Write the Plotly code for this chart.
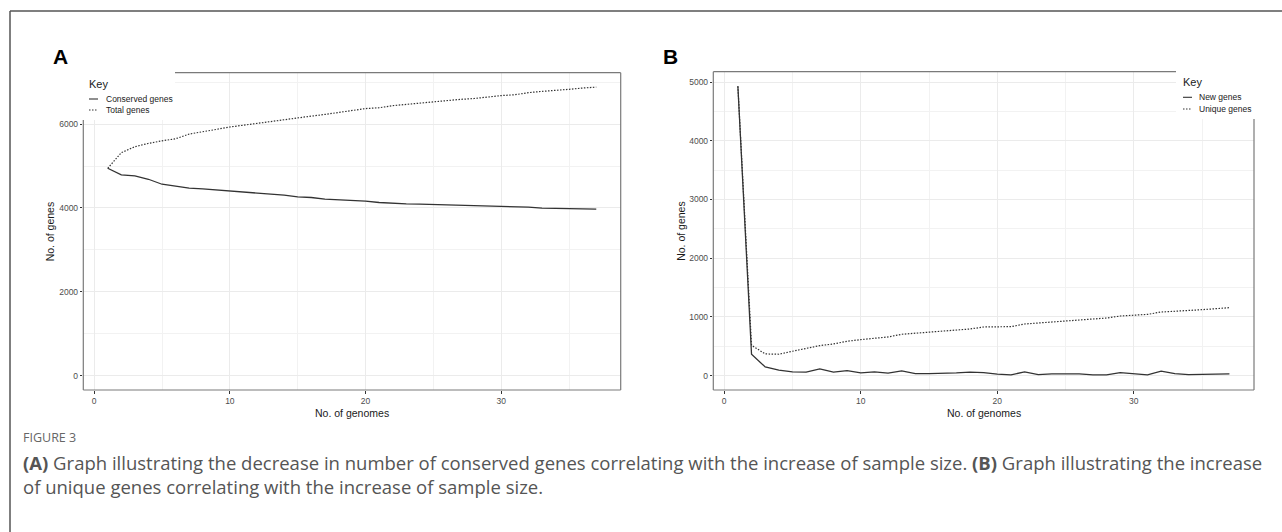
import plotly.graph_objects as go

genomes = list(range(1, 38))

conserved_genes = [4946, 4787, 4763, 4684, 4565, 4526, 4470, 4455, 4430, 4407,
                   4383, 4343, 4335, 4304, 4264, 4248, 4208, 4193, 4169, 4161,
                   4129, 4105, 4098, 4090, 4082, 4082, 4074, 4066, 4058, 4050,
                   4042, 4018, 3994, 3987, 3987, 3979, 3971]
total_genes = [4946, 5318, 5461, 5540, 5600, 5650, 5762, 5810, 5873, 5930,
               5975, 6020, 6070, 6110, 6150, 6190, 6230, 6275, 6330, 6370,
               6390, 6440, 6470, 6500, 6540, 6570, 6590, 6610, 6650, 6680,
               6700, 6750, 6780, 6800, 6830, 6860, 6882]

new_genes = [4930, 363, 147, 91, 62, 57, 113, 57, 85, 45,
             62, 40, 79, 34, 34, 34, 45, 57, 51, 23,
             11, 62, 17, 28, 34, 28, 11, 11, 51, 34,
             11, 74, 34, 17, 23, 28, 28]
unique_genes = [4930, 516, 368, 363, 414, 465, 510, 538, 584, 612,
                635, 657, 703, 720, 731, 748, 771, 793, 827, 827,
                833, 878, 895, 918, 941, 958, 969, 980, 1014, 1031,
                1042, 1082, 1093, 1105, 1122, 1139, 1156]

x_ticks = [0, 10, 20, 30]
a_y_ticks = [0, 2000, 4000, 6000]
b_y_ticks = [0, 1000, 2000, 3000, 4000, 5000]

W, H = 1282, 532
LINE = "#333333"
GRID = "#ebebeb"
BORDER = "#7a7a7a"
TICKC = "#4d4d4d"
FONT = "Liberation Sans, Arial, sans-serif"
DOT = "1.5px,1.5px"

fig = go.Figure()
fig.add_trace(go.Scatter(x=genomes, y=conserved_genes, name="Conserved genes", mode="lines",
                         line=dict(color=LINE, width=1.3), xaxis="x", yaxis="y", showlegend=False))
fig.add_trace(go.Scatter(x=genomes, y=total_genes, name="Total genes", mode="lines",
                         line=dict(color=LINE, width=1.2, dash=DOT), xaxis="x", yaxis="y", showlegend=False))
fig.add_trace(go.Scatter(x=genomes, y=new_genes, name="New genes", mode="lines",
                         line=dict(color=LINE, width=1.3), xaxis="x2", yaxis="y2", showlegend=False))
fig.add_trace(go.Scatter(x=genomes, y=unique_genes, name="Unique genes", mode="lines",
                         line=dict(color=LINE, width=1.2, dash=DOT), xaxis="x2", yaxis="y2", showlegend=False))

def px_x(p):
    return p / W

def px_y(p):
    return 1 - p / H

A_L, A_R, A_T, A_B = 83.3, 620.7, 72.7, 390.0
B_L, B_R, B_T, B_B = 713.3, 1254.0, 71.7, 390.0

axis_common = dict(
    showline=False, zeroline=False, showgrid=True, gridcolor=GRID, gridwidth=1,
    ticks="outside", ticklen=2.5, tickwidth=1, tickcolor=LINE,
    tickfont=dict(family=FONT, size=8.5, color=TICKC), automargin=False,
)

fig.update_layout(
    width=W, height=H, margin=dict(l=0, r=0, t=0, b=0),
    paper_bgcolor="white", plot_bgcolor="white", showlegend=False,
    xaxis=dict(domain=[px_x(A_L), px_x(A_R)], range=[-0.8, 38.8], tickvals=x_ticks, anchor="y",
               minor=dict(showgrid=True, gridcolor="#f2f2f2", gridwidth=0.6, dtick=5, tick0=0), **axis_common),
    yaxis=dict(domain=[px_y(A_B), px_y(A_T)], range=[-344, 7226], tickvals=a_y_ticks, anchor="x",
               minor=dict(showgrid=True, gridcolor="#f2f2f2", gridwidth=0.6, dtick=1000, tick0=0), **axis_common),
    xaxis2=dict(domain=[px_x(B_L), px_x(B_R)], range=[-0.8, 38.8], tickvals=x_ticks, anchor="y2",
                minor=dict(showgrid=True, gridcolor="#f2f2f2", gridwidth=0.6, dtick=5, tick0=0), **axis_common),
    yaxis2=dict(domain=[px_y(B_B), px_y(B_T)], range=[-246.5, 5176.5], tickvals=b_y_ticks, anchor="x2",
                minor=dict(showgrid=True, gridcolor="#f2f2f2", gridwidth=0.6, dtick=500, tick0=0), **axis_common),
)

shapes = []
# outer figure frame
shapes.append(dict(type="line", xref="paper", yref="paper", x0=px_x(10), x1=1.0, y0=px_y(11), y1=px_y(11),
                   line=dict(color="#555555", width=1.5), layer="above"))
shapes.append(dict(type="line", xref="paper", yref="paper", x0=px_x(10), x1=px_x(10), y0=px_y(11), y1=0,
                   line=dict(color="#555555", width=1.5), layer="above"))

# Panel A: legend box cover and border
a_cover_x = (175 - A_L) / (A_R - A_L)
a_cover_y = (A_B - 120) / (A_B - A_T)
shapes.append(dict(type="rect", xref="x domain", yref="y domain", x0=-0.01, x1=a_cover_x, y0=a_cover_y, y1=1.01,
                   fillcolor="white", line=dict(width=0), layer="above"))
for (x0, x1, y0, y1) in [(0, 0, 0, a_cover_y), (0, 1, 0, 0), (1, 1, 0, 1), (a_cover_x, 1, 1, 1)]:
    shapes.append(dict(type="line", xref="x domain", yref="y domain", x0=x0, x1=x1, y0=y0, y1=y1,
                       line=dict(color=BORDER, width=1.2), layer="above"))

# Panel B: legend box cover and border
b_cover_x = (1176 - B_L) / (B_R - B_L)
b_cover_y = (B_B - 119) / (B_B - B_T)
shapes.append(dict(type="rect", xref="x2 domain", yref="y2 domain", x0=b_cover_x, x1=1.01, y0=b_cover_y, y1=1.01,
                   fillcolor="white", line=dict(width=0), layer="above"))
for (x0, x1, y0, y1) in [(0, 0, 0, 1), (0, 1, 0, 0), (1, 1, 0, b_cover_y), (0, b_cover_x, 1, 1)]:
    shapes.append(dict(type="line", xref="x2 domain", yref="y2 domain", x0=x0, x1=x1, y0=y0, y1=y1,
                       line=dict(color=BORDER, width=1.2), layer="above"))

# legend samples
def legend_sample(x0, x1, y, dash):
    shapes.append(dict(type="line", xref="paper", yref="paper", x0=px_x(x0), x1=px_x(x1), y0=px_y(y), y1=px_y(y),
                       line=dict(color=LINE, width=1.1, dash=dash), layer="above"))

legend_sample(89, 98, 99, "solid")
legend_sample(89, 98, 110, DOT)
legend_sample(1183, 1192, 97.3, "solid")
legend_sample(1183, 1192, 109, DOT)

fig.update_layout(shapes=shapes)

ann = []
def text(x, y, s, size, color="#1a1a1a", xanchor="left", yanchor="middle", textangle=0, family=FONT):
    ann.append(dict(xref="paper", yref="paper", x=px_x(x), y=px_y(y), text=s, showarrow=False,
                    xanchor=xanchor, yanchor=yanchor, textangle=textangle,
                    font=dict(family=family, size=size, color=color)))

# panel labels
text(51, 56, "<b>A</b>", 21, "#000000")
text(661, 56, "<b>B</b>", 21, "#000000")
# legends
text(87, 84, "Key", 11)
text(104, 99, "Conserved genes", 8.5)
text(104, 110, "Total genes", 8.5)
text(1181, 82, "Key", 11)
text(1197, 97.3, "New genes", 8.5)
text(1197, 109, "Unique genes", 8.5)
# axis titles
text((A_L + A_R) / 2, 413, "No. of genomes", 10.5, xanchor="center")
text((B_L + B_R) / 2, 413, "No. of genomes", 10.5, xanchor="center")
text(50, (A_T + A_B) / 2, "No. of genes", 10.5, xanchor="center", textangle=-90)
text(681, (B_T + B_B) / 2, "No. of genes", 10.5, xanchor="center", textangle=-90)
# caption
CAP = "Open Sans, sans-serif"
text(21, 437, "FIGURE 3", 12.5, "#666666", family=CAP)
text(21, 462, "<b>(A)</b> Graph illustrating the decrease in number of conserved genes correlating with the increase of sample size. "
              "<b>(B)</b> Graph illustrating the increase", 18.5, "#555555", family=CAP)
text(21, 486, "of unique genes correlating with the increase of sample size.", 18.5, "#555555", family=CAP)

fig.update_layout(annotations=ann)

fig.write_html("out.html", config={"displayModeBar": False},
               post_script="document.body.style.margin='0';")
